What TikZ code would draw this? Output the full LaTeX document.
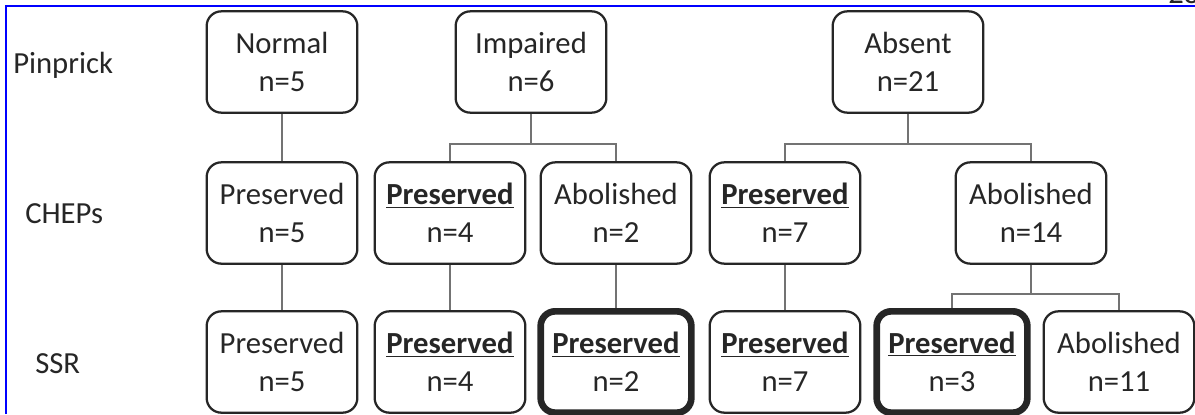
\documentclass[tikz,border=0pt]{standalone}
\usepackage{fontspec}
\setmainfont{Carlito}
\tikzset{
  grp/.style={draw=black!85, line width=1.7pt, rounded corners=11pt,
    minimum width=113pt, minimum height=76pt, align=center, inner sep=0pt},
  keygrp/.style={grp, line width=5pt},
  rowname/.style={anchor=base west, inner sep=0pt},
  link/.style={draw=black!55, line width=1.1pt},
}
\newcommand{\hl}[1]{\underline{\textbf{#1}}}
\begin{document}
\begin{tikzpicture}[x=0.75pt, y=-0.75pt, font=\fontsize{23}{28.5}\selectfont, text=black!85]
\useasboundingbox (0,0) rectangle (1195,414);
\clip (0,0) rectangle (1195,414);
\draw[blue, line width=1.6pt] (6,414) -- (6,6) -- (1195,6);
\node[anchor=base west, inner sep=0pt] (pg) at (1168,3) {28};
% row names
\node[rowname] (lpin) at (13,73) {Pinprick};
\node[rowname] (lchep) at (25,223) {CHEPs};
\node[rowname] (lssr) at (35,373) {SSR};
% pinprick
\node[grp] (pnorm) at (282,62) {Normal\\n=5};
\node[grp] (pimp) at (531,62) {Impaired\\n=6};
\node[grp] (pabs) at (908,62) {Absent\\n=21};
% CHEPs
\node[grp] (cnorm) at (282,213) {Preserved\\n=5};
\node[grp] (cimppre) at (450,213) {\hl{Preserved}\\n=4};
\node[grp] (cimpab) at (616,213) {Abolished\\n=2};
\node[grp] (cabspre) at (785,213) {\hl{Preserved}\\n=7};
\node[grp] (cabsab) at (1031,213) {Abolished\\n=14};
% SSR
\node[grp] (snorm) at (282,362) {Preserved\\n=5};
\node[grp] (simppre) at (450,362) {\hl{Preserved}\\n=4};
\node[keygrp] (simpab) at (616,362) {\hl{Preserved}\\n=2};
\node[grp] (sabspre) at (785,362) {\hl{Preserved}\\n=7};
\node[keygrp] (sabsabpre) at (952,362) {\hl{Preserved}\\n=3};
\node[grp] (sabsab) at (1119,362) {Abolished\\n=11};
% links
\draw[link] (pnorm) -- (cnorm);
\draw[link] (cnorm) -- (snorm);
\draw[link] (pimp.south) -- ++(0,30) -| (cimppre.north);
\draw[link] (pimp.south) -- ++(0,30) -| (cimpab.north);
\draw[link] (pabs.south) -- ++(0,30) -| (cabspre.north);
\draw[link] (pabs.south) -- ++(0,30) -| (cabsab.north);
\draw[link] (cimppre) -- (simppre);
\draw[link] (cimpab) -- (simpab);
\draw[link] (cabspre) -- (sabspre);
\draw[link] (cabsab.south) -- ++(0,29) -| (sabsabpre.north);
\draw[link] (cabsab.south) -- ++(0,29) -| (sabsab.north);
\end{tikzpicture}
\end{document}
